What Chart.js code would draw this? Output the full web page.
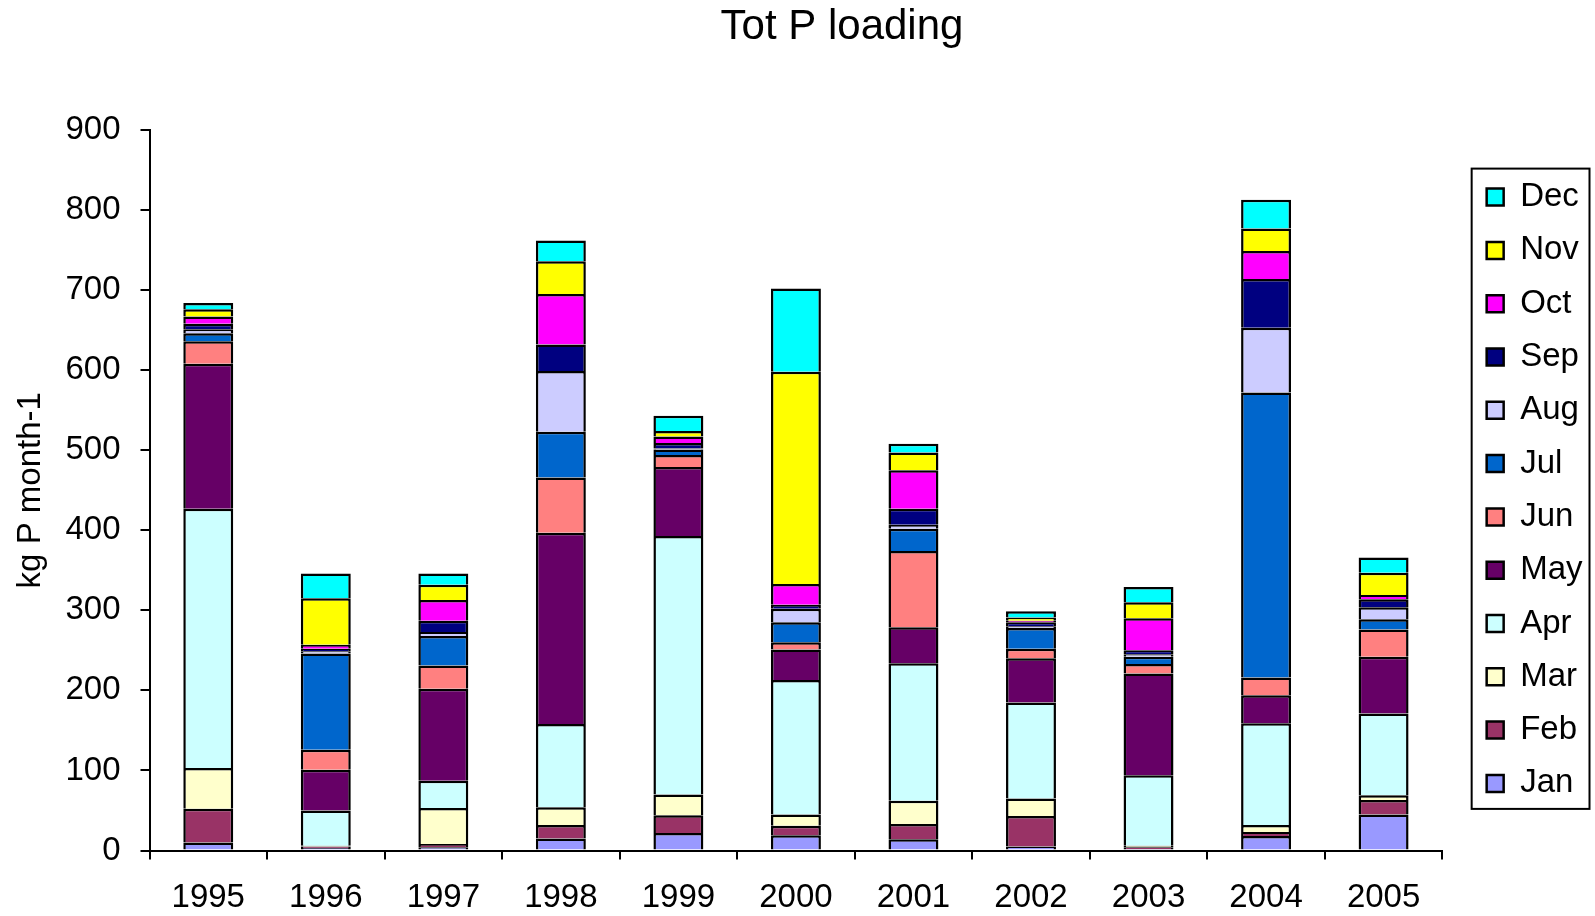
<!DOCTYPE html>
<html>
<head>
<meta charset="utf-8">
<script src="https://cdn.jsdelivr.net/npm/chart.js@4.4.1/dist/chart.umd.min.js"></script>
<style>
  html, body { margin: 0; padding: 0; background: #fff; }
  canvas { display: block; }
</style>
</head>
<body>
<canvas id="chart" width="1595" height="916"></canvas>
<script>
const years = ['1995', '1996', '1997', '1998', '1999', '2000', '2001', '2002', '2003', '2004', '2005'];

// monthly loads, kg P
const jan = [10, 3, 4, 15, 22, 19, 14, 5, 2, 18, 45];
const feb = [42, 2, 4, 17, 22, 12, 19, 38, 2, 5, 18];
const mar = [51, 1, 45, 22, 26, 14, 29, 22, 2, 9, 6];
const apr = [324, 44, 34, 104, 323, 168, 172, 120, 88, 127, 102];
const may = [181, 51, 115, 239, 86, 38, 45, 55, 127, 35, 71];
const jun = [28, 25, 29, 69, 15, 9, 95, 12, 12, 22, 34];
const jul = [10, 120, 37, 57, 7, 25, 28, 26, 9, 356, 13];
const aug = [5, 3, 5, 76, 1, 17, 5, 2, 3, 81, 15];
const sep = [7, 3, 14, 33, 7, 5, 20, 5, 5, 61, 10];
const oct = [9, 5, 26, 63, 8, 26, 48, 2, 40, 35, 5];
const nov = [9, 58, 19, 41, 7, 265, 22, 4, 20, 28, 28];
const dec = [8, 31, 14, 26, 19, 104, 11, 8, 19, 36, 19];

const monthNames = ['Jan', 'Feb', 'Mar', 'Apr', 'May', 'Jun', 'Jul', 'Aug', 'Sep', 'Oct', 'Nov', 'Dec'];
const monthData = [jan, feb, mar, apr, may, jun, jul, aug, sep, oct, nov, dec];
const monthColors = ['#9999FF', '#993366', '#FFFFCC', '#CCFFFF', '#660066', '#FF8080',
                     '#0066CC', '#CCCCFF', '#000080', '#FF00FF', '#FFFF00', '#00FFFF'];

const FONT = "'Liberation Sans', Arial, sans-serif";

// the Excel title is centred on plot+legend, not on the canvas
const shiftTitle = {
  id: 'shiftTitle',
  afterLayout(chart) {
    const tb = chart.titleBlock;
    if (tb) {
      tb.left = 91.5;
      tb.right = chart.width - 2.5;
    }
  }
};

// draws the black frame round the legend, like the Excel original
const legendFrame = {
  id: 'legendFrame',
  afterDraw(chart) {
    const lg = chart.legend;
    const hb = lg.legendHitBoxes;
    if (!hb || !hb.length) return;
    const ctx = chart.ctx;
    const top = hb[0].top - 12;
    const last = hb[hb.length - 1];
    const bottom = last.top + last.height + 9;
    const left = hb[0].left - 15;
    const right = lg.right - 3;
    ctx.save();
    ctx.strokeStyle = '#000';
    ctx.lineWidth = 2;
    ctx.strokeRect(left, top, right - left, bottom - top);
    ctx.restore();
  }
};

const ctx = document.getElementById('chart').getContext('2d');
new Chart(ctx, {
  type: 'bar',
  data: {
    labels: years,
    datasets: monthData.map((vals, i) => ({
      label: monthNames[i],
      data: vals,
      backgroundColor: monthColors[i],
      borderColor: '#000',
      borderWidth: 2.5,
      barPercentage: 0.425,
      categoryPercentage: 1.0
    }))
  },
  options: {
    responsive: false,
    devicePixelRatio: 1,
    animation: false,
    layout: { padding: { left: 2, right: 2.5, top: 0, bottom: 0 } },
    plugins: {
      title: {
        display: true,
        text: 'Tot P loading',
        color: '#000',
        font: { family: FONT, size: 42, weight: 'normal', lineHeight: 1.2 },
        padding: { top: 2.3, bottom: 77.3 }
      },
      legend: {
        position: 'right',
        reverse: true,
        fullSize: false,
        align: 'center',
        labels: {
          color: '#000',
          font: { family: FONT, size: 33 },
          boxWidth: 17,
          boxHeight: 17,
          padding: 20.3
        }
      },
      tooltip: { enabled: false }
    },
    scales: {
      x: {
        stacked: true,
        grid: { drawOnChartArea: false, drawTicks: true, tickLength: 9, color: '#000', lineWidth: 2 },
        border: { display: true, color: '#000', width: 2 },
        ticks: { color: '#000', font: { family: FONT, size: 33, lineHeight: 1.2 }, padding: 19, maxRotation: 0 },
        afterFit(scale) { scale.height = 65.5; }
      },
      y: {
        stacked: true,
        min: 0,
        max: 900,
        ticks: { stepSize: 100, color: '#000', font: { family: FONT, size: 33 }, padding: 20 },
        grid: { drawOnChartArea: false, drawTicks: true, tickLength: 9, color: '#000', lineWidth: 2 },
        border: { display: true, color: '#000', width: 2 },
        title: {
          display: true,
          text: 'kg P month-1',
          color: '#000',
          font: { family: FONT, size: 33, lineHeight: 1.2 },
          padding: { top: 9.2, bottom: 0 }
        },
        afterFit(scale) { scale.width = 147.5; }
      },
      gap: {
        type: 'linear',
        position: 'right',
        display: true,
        grid: { display: false },
        border: { display: false },
        ticks: { display: false },
        afterFit(scale) { scale.width = 24; }
      }
    }
  },
  plugins: [shiftTitle, legendFrame]
});
</script>
</body>
</html>
